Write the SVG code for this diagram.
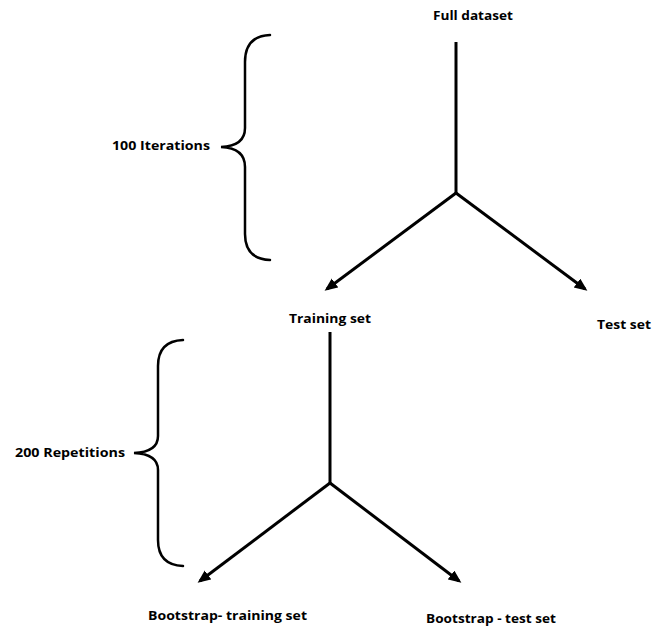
<svg xmlns="http://www.w3.org/2000/svg" width="654" height="635" viewBox="0 0 654 635">
<style>
.lbl{font-family:"Open Sans","Liberation Sans",sans-serif;font-weight:bold;font-size:12.5px;fill:#000}
.ln{stroke:#000;stroke-width:3;fill:none}
.br{stroke:#000;stroke-width:2.5;fill:none;stroke-linecap:round}
</style>
<defs>
<marker id="ah" markerUnits="userSpaceOnUse" markerWidth="14" markerHeight="12" refX="10" refY="5.5" orient="auto">
<path d="M0,0 L13,5.5 L0,11 z" fill="#000"/>
</marker>
</defs>
<rect width="654" height="635" fill="#fff"/>
<g id="full-dataset"><text class="lbl" x="433" y="20" textLength="80" lengthAdjust="spacingAndGlyphs">Full dataset</text></g>
<g id="training-set"><text class="lbl" x="289" y="323" textLength="82" lengthAdjust="spacingAndGlyphs">Training set</text></g>
<g id="test-set"><text class="lbl" x="597" y="329" textLength="54" lengthAdjust="spacingAndGlyphs">Test set</text></g>
<g id="bootstrap-training"><text class="lbl" x="148" y="620" textLength="159" lengthAdjust="spacingAndGlyphs">Bootstrap- training set</text></g>
<g id="bootstrap-test"><text class="lbl" x="426" y="623" textLength="130" lengthAdjust="spacingAndGlyphs">Bootstrap - test set</text></g>
<g id="iterations">
<path class="br" d="M270,35 Q245,36 245,62 L245,128 Q245,146 221,147 Q245,148 245,167 L245,234 Q245,259 270,260"/>
<text class="lbl" x="112" y="150" textLength="98" lengthAdjust="spacingAndGlyphs">100 Iterations</text>
</g>
<g id="repetitions">
<path class="br" d="M183,340 Q158,341 158,366 L158,436 Q158,452 134,453 Q158,454 158,470 L158,540 Q158,565 183,566"/>
<text class="lbl" x="15" y="457" textLength="110" lengthAdjust="spacingAndGlyphs">200 Repetitions</text>
</g>
<g id="connectors">
<path class="ln" d="M456,42 L456,193"/>
<path class="ln" marker-end="url(#ah)" d="M456,193 L327,289"/>
<path class="ln" marker-end="url(#ah)" d="M456,193 L585,289"/>
<path class="ln" d="M330,332 L330,483"/>
<path class="ln" marker-end="url(#ah)" d="M330,483 L200,581"/>
<path class="ln" marker-end="url(#ah)" d="M330,483 L459,581"/>
</g>
</svg>
